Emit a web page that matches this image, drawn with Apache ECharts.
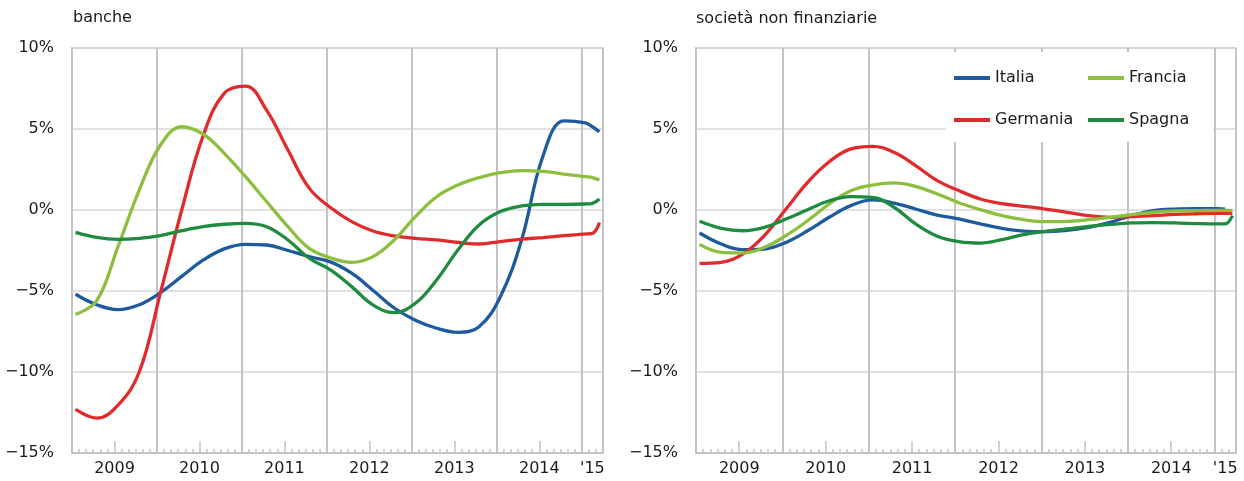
<!DOCTYPE html>
<html>
<head>
<meta charset="utf-8">
<title>banche / società non finanziarie</title>
<script src="https://cdn.jsdelivr.net/npm/echarts@6/dist/echarts.min.js"></script>
<style>
  html, body { margin: 0; padding: 0; background: #fff; }
  #main { width: 1244px; height: 481px; }
</style>
</head>
<body>
<div id="main"></div>
<script>
// mesi Gen 2009 - Mar 2015
const months = []
for (let y = 2009; y <= 2015; y++) {
  for (let m = 1; m <= 12; m++) {
    if (y === 2015 && m > 3) break
    months.push(y + '-' + (m < 10 ? '0' + m : m))
  }
}

// indici dei mesi
const sampleIdx = [0, 3, 6, 9, 12, 15, 18, 21, 24, 27, 30, 33, 36, 39, 42, 45, 48, 51, 54, 57, 60, 63, 66, 69, 72, 73, 74]

// banche
const italiaB = [-5.2, -5.85, -6.15, -5.85, -5.1, -4.1, -3.1, -2.4, -2.12, -2.16, -2.5, -2.88, -3.2, -3.9, -4.95, -6.05, -6.8, -7.3, -7.55, -7.2, -5.35, -1.85, 3.3, 5.5, 5.38, 5.14, 4.83]
const germaniaB = [-12.3, -12.85, -12.05, -10.0, -5.1, 0, 4.55, 7.2, 7.65, 6.15, 3.7, 1.35, 0.15, -0.72, -1.3, -1.6, -1.75, -1.85, -2.0, -2.1, -1.95, -1.8, -1.7, -1.58, -1.48, -1.44, -0.78]
const franciaB = [-6.44, -5.6, -2.26, 1.23, 4.01, 5.14, 4.69, 3.5, 2.06, 0.51, -1.03, -2.37, -2.95, -3.23, -2.88, -1.85, -0.41, 0.82, 1.54, 2.0, 2.3, 2.43, 2.39, 2.22, 2.06, 2.0, 1.85]
const spagnaB = [-1.38, -1.69, -1.81, -1.75, -1.58, -1.28, -1.03, -0.88, -0.82, -1.03, -1.85, -2.98, -3.7, -4.73, -5.86, -6.34, -5.76, -4.32, -2.47, -0.93, -0.1, 0.25, 0.35, 0.35, 0.37, 0.41, 0.68]

// società non finanziarie
const italiaS = [-1.42, -2.1, -2.45, -2.41, -2.0, -1.28, -0.45, 0.27, 0.62, 0.43, 0.06, -0.31, -0.55, -0.86, -1.13, -1.3, -1.34, -1.25, -1.07, -0.76, -0.35, -0.04, 0.06, 0.08, 0.08, 0.06, null]
const germaniaS = [-3.29, -3.23, -2.72, -1.58, 0.06, 1.71, 2.98, 3.77, 3.93, 3.56, 2.74, 1.81, 1.2, 0.68, 0.39, 0.23, 0.06, -0.14, -0.35, -0.45, -0.41, -0.35, -0.27, -0.23, -0.21, -0.21, -0.19]
const franciaS = [-2.12, -2.61, -2.65, -2.3, -1.58, -0.66, 0.37, 1.19, 1.54, 1.67, 1.46, 0.99, 0.45, 0.02, -0.35, -0.6, -0.72, -0.7, -0.6, -0.45, -0.29, -0.14, -0.06, -0.04, -0.02, -0.02, -0.02]
const spagnaS = [-0.7, -1.13, -1.28, -1.07, -0.56, 0.02, 0.57, 0.82, 0.78, 0.17, -0.86, -1.62, -1.95, -2.04, -1.83, -1.52, -1.32, -1.17, -1.01, -0.89, -0.8, -0.78, -0.8, -0.84, -0.86, -0.86, -0.35]

const yTicks = [-15, -10, -5, 0, 5, 10]

const colors = {
  Italia: '#1d5a9e',
  Germania: '#e02a2b',
  Francia: '#8dbf3f',
  Spagna: '#1f8b3e'
}
const font = 'DejaVu Sans'
const txt = '#1a1a1a'
const gridCol = '#c3c3c8'

function pairs (vals) {
  return sampleIdx.map((idx, k) => [idx, vals[k]])
}

function mainX (gridIndex) {
  return {
    type: 'category',
    gridIndex: gridIndex,
    position: 'bottom',
    data: months,
    boundaryGap: true,
    axisLine: { show: true, onZero: false, lineStyle: { color: gridCol, width: 2 } },
    axisTick: {
      show: true,
      inside: true,
      length: 4,
      interval: 0,
      lineStyle: { color: gridCol, width: 1.5 }
    },
    splitLine: {
      show: true,
      interval: (i) => i % 12 === 0,
      lineStyle: { color: gridCol, width: 2 }
    },
    axisLabel: {
      interval: (i) => i % 12 === 6 || i === 73,
      margin: 8,
      fontFamily: font,
      fontSize: 16,
      color: txt,
      formatter: (v) => {
        const y = v.slice(0, 4)
        if (y === '2015') return "{e|'15}"
        return '{y|' + y + '}'
      },
      rich: {
        y: { fontFamily: font, fontSize: 16, color: txt, padding: [0, 7, 0, 0] },
        e: { fontFamily: font, fontSize: 16, color: txt }
      }
    }
  }
}

// solo le tacche di metà anno
function julyX (gridIndex) {
  return {
    type: 'category',
    gridIndex: gridIndex,
    position: 'bottom',
    data: months,
    boundaryGap: true,
    axisLine: { show: false, onZero: false },
    axisLabel: { show: false },
    splitLine: { show: false },
    axisTick: {
      show: true,
      inside: true,
      length: 12,
      interval: (i) => i % 12 === 6,
      lineStyle: { color: gridCol, width: 1.5 }
    }
  }
}

function yAx (gridIndex) {
  return {
    type: 'value',
    gridIndex: gridIndex,
    min: yTicks[0],
    max: yTicks[yTicks.length - 1],
    interval: 5,
    axisLine: { show: true, lineStyle: { color: gridCol, width: 2 } },
    axisTick: { show: false },
    splitLine: { show: true, lineStyle: { color: '#d7d7da', width: 1.5 } },
    axisLabel: {
      margin: 18,
      fontFamily: font,
      fontSize: 16,
      color: txt,
      formatter: (v) => (v < 0 ? '−' + Math.abs(v) : v) + '%'
    }
  }
}

function line (name, vals, axisIdx) {
  return {
    name: name,
    type: 'line',
    xAxisIndex: axisIdx,
    yAxisIndex: axisIdx / 2,
    data: pairs(vals),
    smooth: 0.4,
    showSymbol: false,
    symbol: 'none',
    color: colors[name],
    lineStyle: { color: colors[name], width: 3.3 },
    z: 3
  }
}

function legendItem (name, left, top) {
  return {
    data: [name],
    left: left,
    top: top,
    padding: 0,
    icon: 'rect',
    itemWidth: 36,
    itemHeight: 4,
    selectedMode: false,
    textStyle: { fontFamily: font, fontSize: 16, color: txt, lineHeight: 20 },
    z: 6
  }
}

const myChart = echarts.init(document.getElementById('main'), null, { renderer: 'canvas' })

myChart.setOption({
  animation: false,
  backgroundColor: '#fff',
  title: [
    { text: 'banche', left: 73, top: 10, padding: 0, textStyle: { fontFamily: font, fontSize: 16, fontWeight: 'normal', color: txt } },
    { text: 'società non finanziarie', left: 696, top: 11, padding: 0, textStyle: { fontFamily: font, fontSize: 16, fontWeight: 'normal', color: txt } }
  ],
  grid: [
    { left: 72, top: 48, width: 531, height: 405, show: true, borderColor: gridCol, borderWidth: 1.5, backgroundColor: 'transparent' },
    { left: 696, top: 48, width: 540, height: 405, show: true, borderColor: gridCol, borderWidth: 1.5, backgroundColor: 'transparent' }
  ],
  xAxis: [mainX(0), julyX(0), mainX(1), julyX(1)],
  yAxis: [yAx(0), yAx(1)],
  graphic: [
    {
      type: 'rect',
      shape: { x: 946, y: 52, width: 267, height: 90 },
      style: { fill: '#fff' },
      z: 4
    }
  ],
  legend: [
    legendItem('Italia', 954, 68),
    legendItem('Germania', 954, 110),
    legendItem('Francia', 1088, 68),
    legendItem('Spagna', 1088, 110)
  ],
  series: [
    line('Italia', italiaB, 0),
    line('Germania', germaniaB, 0),
    line('Francia', franciaB, 0),
    line('Spagna', spagnaB, 0),
    line('Italia', italiaS, 2),
    line('Germania', germaniaS, 2),
    line('Francia', franciaS, 2),
    line('Spagna', spagnaS, 2)
  ]
})
</script>
</body>
</html>
